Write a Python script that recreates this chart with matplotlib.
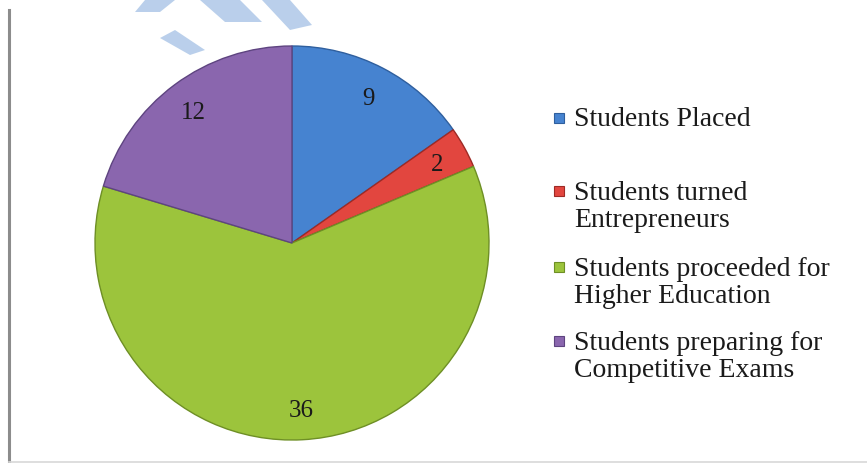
import matplotlib
matplotlib.use("Agg")
import matplotlib.pyplot as plt
from matplotlib.patches import Rectangle, Polygon
from matplotlib.lines import Line2D

categories = ["Students Placed", "Students turned\nEntrepreneurs",
              "Students proceeded for\nHigher Education",
              "Students preparing for\nCompetitive Exams"]
values = [9, 2, 36, 12]
colors = ["#4683D0", "#E2463F", "#9CC43C", "#8A66AE"]
edges = ["#2F5F9E", "#9E2A25", "#6E8F25", "#5E4480"]

W, H = 867, 463
fig = plt.figure(figsize=(W / 100, H / 100), dpi=100)
fig.patch.set_facecolor("white")

# pie axes: center (292,243), radius ~197 px
cx, cy, r = 292, 243, 197
ax = fig.add_axes([(cx - r) / W, (H - cy - r) / H, 2 * r / W, 2 * r / H])
wedges, texts = ax.pie(values, colors=colors, startangle=90, counterclock=False,
                       labels=[str(v) for v in values], labeldistance=0.84,
                       wedgeprops=dict(linewidth=1.0),
                       textprops=dict(family="Liberation Serif", fontsize=18, color="#1a1a1a"))
for w, e in zip(wedges, edges):
    w.set_edgecolor(e)
for t in texts:
    t.set_ha("center")
    t.set_va("center_baseline")
ax.set_aspect("equal")
ax.set_xlim(-1, 1)
ax.set_ylim(-1, 1)
ax.axis("off")

# legend drawn manually with first-line aligned markers
baselines = [126, 199, 275, 349]
line_gap = 28
for lab, col, e, b in zip(categories, colors, edges, baselines):
    fig.patches.append(Rectangle((554 / W, (H - b + 3) / H), 10 / W, 10 / H,
                                 transform=fig.transFigure, facecolor=col,
                                 edgecolor=e, linewidth=0.8))
    nlines = lab.count("\n") + 1
    yb = b + line_gap * (nlines - 1)
    fig.text(574 / W, (H - yb) / H, lab, family="Liberation Serif", fontsize=20,
             color="#1a1a1a", va="baseline", ha="left", linespacing=1.12)

# frame lines (left and bottom)
fig.add_artist(Line2D([9 / W, 9 / W], [0 / H, (H - 10) / H], color="#8c8c8c", linewidth=2.2,
                      transform=fig.transFigure))
fig.add_artist(Line2D([9 / W, 1], [1.5 / H, 1.5 / H], color="#d8d8d8", linewidth=1.2,
                      transform=fig.transFigure))

# faint watermark strokes at top
wm = "#a9c4e6"
strokes = [
    [(145, 0), (175, 0), (160, 12), (135, 12)],
    [(200, 0), (240, 0), (262, 22), (225, 22)],
    [(262, 0), (290, 0), (312, 25), (290, 30)],
    [(160, 38), (175, 30), (205, 50), (190, 55)],
]
for s in strokes:
    fig.patches.append(Polygon([(x / W, (H - y) / H) for x, y in s], closed=True,
                               transform=fig.transFigure, facecolor=wm, edgecolor="none",
                               alpha=0.8, zorder=0))

fig.savefig("out.png", dpi=100, facecolor="white")
